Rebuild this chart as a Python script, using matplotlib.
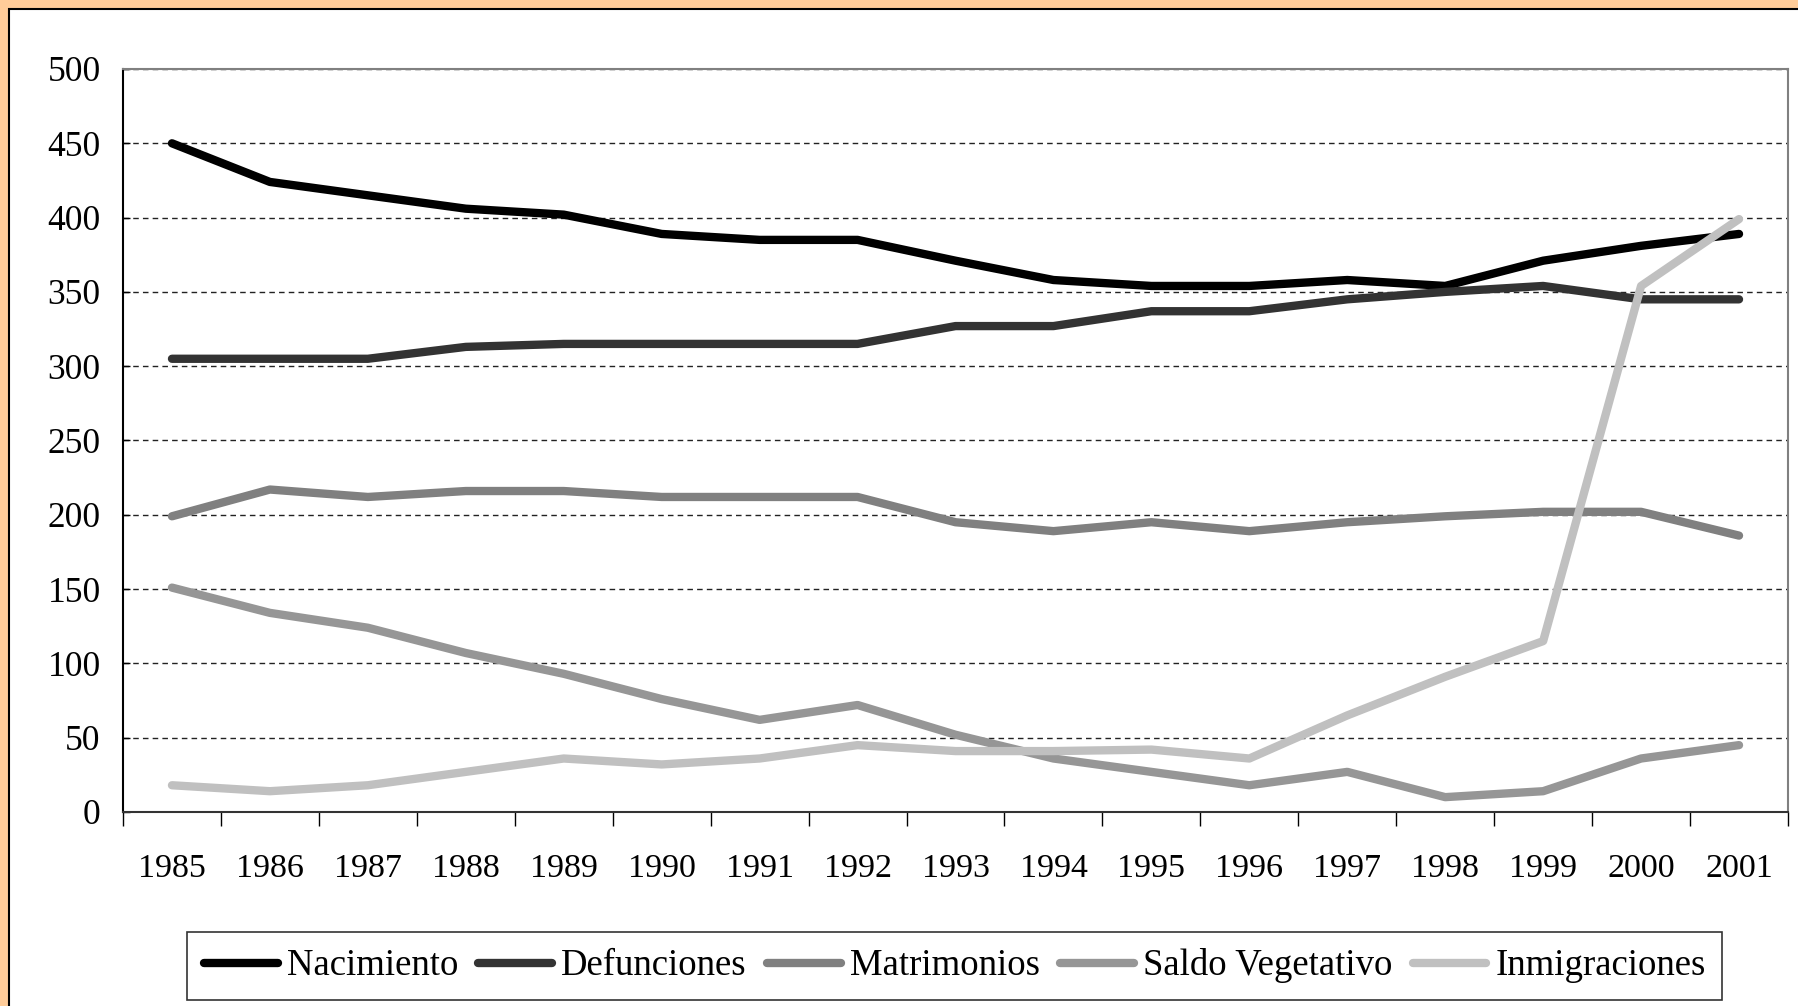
import matplotlib
matplotlib.use("Agg")
import matplotlib.pyplot as plt
from matplotlib.patches import Rectangle

# Data
years = ['1985', '1986', '1987', '1988', '1989', '1990', '1991', '1992', '1993',
         '1994', '1995', '1996', '1997', '1998', '1999', '2000', '2001']
nacimiento = [450, 424, 415, 406, 402, 389, 385, 385, 371, 358, 354, 354, 358, 354, 371, 381, 389]
defunciones = [305, 305, 305, 313, 315, 315, 315, 315, 327, 327, 337, 337, 345, 350, 354, 345, 345]
matrimonios = [199, 217, 212, 216, 216, 212, 212, 212, 195, 189, 195, 189, 195, 199, 202, 202, 186]
saldo_vegetativo = [151, 134, 124, 107, 93, 76, 62, 72, 52, 36, 27, 18, 27, 10, 14, 36, 45]
inmigraciones = [18, 14, 18, 27, 36, 32, 36, 45, 41, 41, 42, 36, 65, 91, 115, 354, 399]

series = [
    ('Nacimiento', nacimiento, '#000000'),
    ('Defunciones', defunciones, '#333333'),
    ('Matrimonios', matrimonios, '#808080'),
    ('Saldo Vegetativo', saldo_vegetativo, '#969696'),
    ('Inmigraciones', inmigraciones, '#C0C0C0'),
]

plt.rcParams['font.family'] = ['Liberation Serif', 'DejaVu Serif']

fig = plt.figure(figsize=(17.98, 10.06), dpi=100)
fig.patch.set_facecolor('#FFCC99')

# white chart area with a black frame inside the peach border
frame = Rectangle((9 / 1798, -0.05), 1.2, 1.05 - 9 / 1006,
                  transform=fig.transFigure, facecolor='white',
                  edgecolor='black', linewidth=1.5, zorder=0)
fig.add_artist(frame)

ax = fig.add_axes([123 / 1798, 1 - 812 / 1006, (1788 - 123) / 1798, (812 - 69) / 1006])
ax.set_facecolor('white')

x = list(range(len(years)))
for name, values, color in series:
    ax.plot(x, values, color=color, linewidth=6, label=name,
            solid_capstyle='round', solid_joinstyle='round', zorder=3)

ax.set_xlim(-0.5, len(years) - 0.5)
ax.set_ylim(0, 500)
ax.set_yticks(range(0, 501, 50))
ax.set_xticks(x)
ax.set_xticklabels(years)
ax.set_xticks([i - 0.5 for i in range(len(years) + 1)], minor=True)

ax.tick_params(axis='x', which='major', length=0, pad=30, labelsize=24.5)
ax.tick_params(axis='x', which='minor', length=10, width=1, direction='out', color='black')
ax.tick_params(axis='y', which='major', length=5, width=1, direction='in', pad=16, labelsize=25.5)

ax.yaxis.grid(True, color='#222222', linewidth=1, linestyle=(0, (4, 3)))
ax.set_axisbelow(True)

ax.spines['left'].set_color('black')
ax.spines['bottom'].set_color('#333333')
ax.spines['top'].set_color('#808080')
ax.spines['right'].set_color('#808080')
for sp in ax.spines.values():
    sp.set_linewidth(1.5)

leg = fig.legend(loc='center', bbox_to_anchor=(0.5311, 0.0398), ncol=5,
                 fontsize=26.5, frameon=True, fancybox=False, shadow=False,
                 handlelength=2.0, handletextpad=0.25, columnspacing=0.55,
                 borderpad=0.45, borderaxespad=0)
leg.get_frame().set_edgecolor('black')
leg.get_frame().set_linewidth(1.2)

fig.savefig('out.png', dpi=100, facecolor=fig.get_facecolor())
